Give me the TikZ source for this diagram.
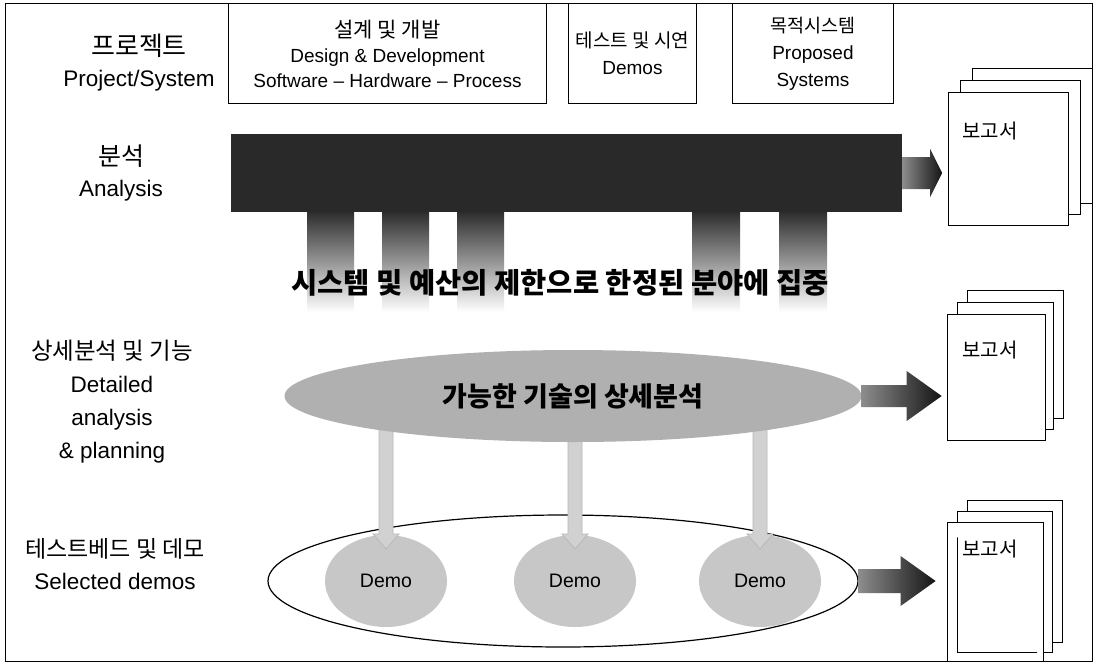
\documentclass[tikz,border=0pt]{standalone}
\usepackage{fontspec}
\setmainfont{Liberation Sans}
\newfontfamily\kr{Noto Sans CJK KR}
\usetikzlibrary{calc,shapes.geometric}
\newcommand\hblkarrow[6]{%
  \path[#6] (#1) ++(0,-#4) -- ++(#2,0) -- ++(0,#4-#5) -- ++(#3,#5) -- ++(-#3,#5) -- ++(0,#4-#5) -- ++(-#2,0) -- cycle;}
\newcommand\vblkarrow[6]{%
  \path[#6] (#1) ++(-#4,0) -- ++(0,#2) -- ++(#4-#5,0) -- ++(#5,#3) -- ++(#5,-#3) -- ++(#4-#5,0) -- ++(0,-#2) -- cycle;}
\begin{document}
\begin{tikzpicture}[x=1pt,y=-1pt,
  lbl/.style={align=center, inner sep=0pt, font=\fontsize{22.5}{31}\selectfont},
  topbox/.style={draw=black, line width=0.9pt, fill=white, align=center, inner sep=0pt, font=\fontsize{19}{25}\selectfont, anchor=north west},
  page/.style={draw=black, line width=1pt, fill=white},
  reptext/.style={font=\kr\fontsize{20}{20}\selectfont, inner sep=0pt, anchor=west},
  demo/.style={ellipse, fill=black!22, minimum width=122pt, minimum height=92pt, inner sep=0pt, font=\fontsize{19.5}{19.5}\selectfont},
  darrow/.style={fill=black!18, draw=black!28, line width=0.8pt},
  rarrow/.style={left color=black!45, right color=black!92},
]
\useasboundingbox (0,0) rectangle (1097,665);
\fill[white] (0,0) rectangle (1097,665);

% outer frame
\draw[line width=1pt] (5,3) rectangle (1092,661);

% left labels
\node[lbl] (lproj) at (139,63) {{\kr\fontsize{26}{26}\selectfont 프로젝트}\\Project/System};
\node[lbl] (lana) at (121,173) {{\kr\fontsize{25}{25}\selectfont 분석}\\Analysis};
\node[lbl, font=\fontsize{22.5}{33}\selectfont] (ldet) at (112,402) {{\kr\fontsize{23.5}{23.5}\selectfont 상세분석 및 기능}\\Detailed\\analysis\\\& planning};
\node[lbl, font=\fontsize{22.5}{32}\selectfont] (lsel) at (115,564) {{\kr\fontsize{23}{23}\selectfont 테스트베드 및 데모}\\Selected demos};

% top boxes
\node[topbox, minimum width=318pt, minimum height=100pt] (b1) at (228,3)
  {{\kr\fontsize{21}{21}\selectfont 설계 및 개발}\\Design \& Development\\Software -- Hardware -- Process};
\node[topbox, minimum width=128pt, minimum height=100pt, font=\fontsize{19}{27}\selectfont] (b2) at (568,3)
  {{\kr\fontsize{19}{19}\selectfont 테스트 및 시연}\\Demos};
\node[topbox, minimum width=161pt, minimum height=100pt, font=\fontsize{19}{27}\selectfont] (b3) at (732,3)
  {{\kr\fontsize{18.5}{18.5}\selectfont 목적시스템}\\Proposed\\Systems};

% report stacks
\draw[page] (972,68) rectangle (1092,203);
\draw[page] (960,80) rectangle (1080,214);
\draw[page] (948,92) rectangle (1068,225);
\node[reptext] (r1) at (962,131) {보고서};

\draw[page] (967,290) rectangle (1063,418);
\draw[page] (957,302) rectangle (1053,429);
\draw[page] (947,314) rectangle (1045,440);
\node[reptext] (r2) at (962,350) {보고서};

\draw[page] (967,500) rectangle (1062,642);
\draw[page] (957,511) rectangle (1052,652);
\draw[page] (947,522) -- (947,661) (947,522) -- (1043,522) -- (1043,661);
\node[reptext] (r3) at (962,549) {보고서};

% analysis bar with legs
\foreach \a/\b in {307/354,382/429,457/504,692/740,779/827}
  \shade[top color=black!88, middle color=black!55, bottom color=white] (\a,205) rectangle (\b,312);
\node[fill=black!84, minimum width=671pt, minimum height=78pt, inner sep=0pt] (bar) at (566.5,173) {};
\hblkarrow{bar.east}{28}{12}{16}{24}{rarrow}
\node[font=\kr\bfseries\fontsize{28.5}{28.5}\selectfont, inner sep=0pt] (limit) at (560,283) {시스템 및 예산의 제한으로 한정된 분야에 집중};

% selected demos ellipse
\node[ellipse, draw=black, line width=1.2pt, fill=white, minimum width=590pt, minimum height=132pt] (e2) at (563,581) {};
\node[demo] (d1) at (386,581) {Demo};
\node[demo] (d2) at (575,581) {Demo};
\node[demo] (d3) at (760,581) {Demo};
\hblkarrow{e2.east}{42}{35}{12}{25}{rarrow}

% detailed analysis ellipse and arrows to demos
\vblkarrow{d1.north |- 0,396}{138}{15}{7}{13}{darrow}
\vblkarrow{d2.north |- 0,396}{138}{15}{7}{13}{darrow}
\vblkarrow{d3.north |- 0,396}{138}{15}{7}{13}{darrow}
\node[ellipse, fill=black!31, minimum width=577pt, minimum height=92pt, inner sep=0pt,
      font=\kr\bfseries\fontsize{27}{27}\selectfont] (e1) at (573,396) {가능한 기술의 상세분석};
\hblkarrow{e1.east}{45}{35}{11}{25}{rarrow}
\end{tikzpicture}
\end{document}
